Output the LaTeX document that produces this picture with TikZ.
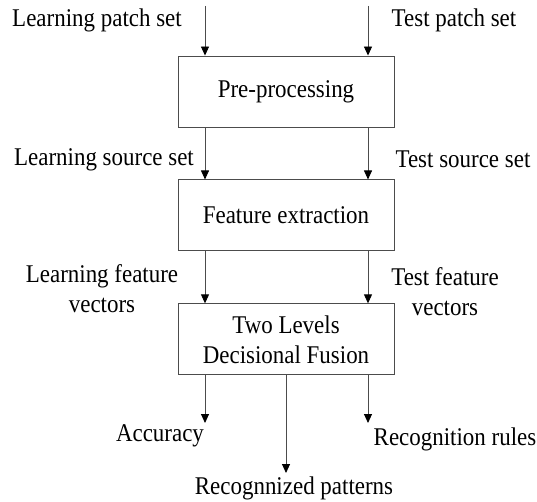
\documentclass[tikz,border=0pt]{standalone}
\usepackage{fontspec}
\setmainfont{Liberation Serif}[FakeStretch=0.9]
\usetikzlibrary{arrows.meta,positioning}

\begin{document}
\begin{tikzpicture}[x=1pt,y=-1pt,node distance=52pt,
        font=\fontsize{25.5}{30}\selectfont,
        stage/.style={draw=black!70,line width=0.9pt,minimum width=216pt,minimum height=71pt,align=center,inner sep=0pt},
        lbl/.style={inner sep=0pt,align=center},
        flow/.style={draw=black!70,line width=0.9pt,-{Triangle[length=9pt,width=8pt,color=black]}}]
        \useasboundingbox (0,0) rectangle (537,502);
        \node[stage] at (286,91.5)
        (pre) {Pre-processing};
        \node[stage,below=of pre]
        (feat) {Feature extraction};
        \node[stage,below=of feat]
        (fuse) {Two Levels\\Decisional Fusion};
        \coordinate (lin) at (205,6);
        \coordinate (tin) at (368,6);
        \coordinate (accend) at (205,423);
        \coordinate (ruleend) at (368,423);
        \coordinate (patend) at (286,473);
        \node[lbl,anchor=base] (lpatch) at (97,27) {Learning patch set};
        \node[lbl,anchor=base] (tpatch) at (454,27) {Test patch set};
        \node[lbl,anchor=base] (lsrc) at (104,166) {Learning source set};
        \node[lbl,anchor=base] (tsrc) at (463,168) {Test source set};
        \node[lbl] (lfeat) at (102,289) {Learning feature\\vectors};
        \node[lbl] (tfeat) at (445,292) {Test feature\\vectors};
        \node[lbl,anchor=base] (acc) at (160,441) {Accuracy};
        \node[lbl,anchor=base] (rules) at (455,445) {Recognition rules};
        \node[lbl,anchor=base] (pats) at (294,494) {Recognnized patterns};
        \draw[flow] (lin) -- (lin |- pre.north);
        \draw[flow] (tin) -- (tin |- pre.north);
        \draw[flow] (pre.south -| lin) -- (feat.north -| lin);
        \draw[flow] (pre.south -| tin) -- (feat.north -| tin);
        \draw[flow] (feat.south -| lin) -- (fuse.north -| lin);
        \draw[flow] (feat.south -| tin) -- (fuse.north -| tin);
        \draw[flow] (fuse.south -| accend) -- (accend);
        \draw[flow] (fuse.south) -- (patend);
        \draw[flow] (fuse.south -| ruleend) -- (ruleend);
\end{tikzpicture}
\end{document}
